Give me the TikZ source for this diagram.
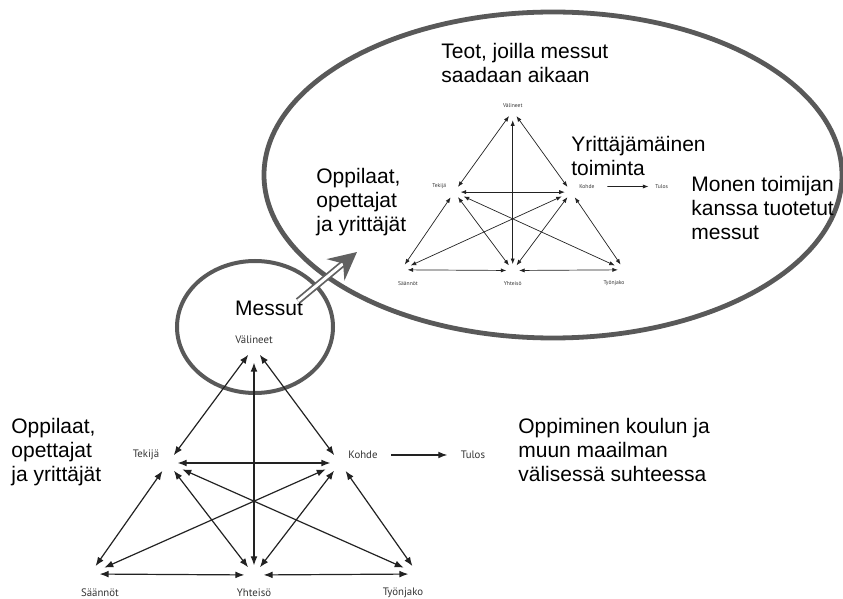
\documentclass[tikz,border=0pt]{standalone}
\usepackage{fontspec}
\setmainfont{Liberation Sans}
\newfontfamily\nimifont{PT Sans}
\usetikzlibrary{arrows.meta}
\tikzset{every picture/.style={>=Latex}}
\tikzset{teksti/.style={font=\fontsize{10.5}{12}\selectfont,align=left,inner sep=0pt,anchor=west}}
\tikzset{kehys/.style={draw=black!65,line width=2.4pt}}
\tikzset{isonuoli/.style={draw=black!62,line width=0.9pt,double=white,double distance=1.5pt,-{Stealth[length=14pt,width=14pt,inset=5pt]}}}
\definecolor{viiva}{HTML}{222222}

% toimintajarjestelman kolmio, koordinaatit pikseleina
\newcommand{\kolmio}{%
  \node[kulma] (V) at (254,347) {};
  \node[kulma] (T) at (168,463) {};
  \node[kulma] (K) at (340,463) {};
  \node[kulma] (S) at (90,574) {};
  \node[kulma] (Y) at (254,575) {};
  \node[kulma] (W) at (418,574) {};
  \node[nimi] (valineet) at (254,340) {Välineet};
  \node[nimi] (tekija) at (146,455) {Tekijä};
  \node[nimi] (kohde) at (363,455) {Kohde};
  \node[nimi] (tulos) at (473,455) {Tulos};
  \node[nimi] (saannot) at (100,593) {Säännöt};
  \node[nimi] (yhteiso) at (254,593) {Yhteisö};
  \node[nimi] (tyonjako) at (403,593) {Työnjako};
  \foreach \a/\b in {V/T,V/K,T/K,T/S,T/Y,K/Y,K/W,S/Y,Y/W}
    \draw[<->] (\a) -- (\b);
  \draw[<->,pitka] (T) -- (W);
  \draw[<->,pitka] (K) -- (S);
  \draw[<->,pystyviiva] (Y) -- (V);
  \draw[->,tulosnuoli] (kohde) -- (tulos);
}

\begin{document}
\begin{tikzpicture}[x=0.5pt,y=-0.5pt]
  \useasboundingbox (0,0) rectangle (843,599);
  % kuplat
  \draw[kehys] (553,175) ellipse [x radius=144.5pt,y radius=81.5pt];
  \draw[kehys,line width=2pt] (255,327) ellipse [x radius=39pt,y radius=33pt];

  % alempi kolmio
  \begin{scope}[name prefix=ala-,line width=0.6pt,color=viiva,>={Latex[length=4.5pt,width=3.4pt]},
      kulma/.style={circle,minimum size=9pt,inner sep=0pt},
      nimi/.style={font=\nimifont\fontsize{5.4}{6}\selectfont,text=black!80,inner sep=0.5pt},
      pitka/.style={shorten <=3pt,shorten >=3pt},
      pystyviiva/.style={shorten >=3pt},
      tulosnuoli/.style={shorten <=6pt,shorten >=6pt}]
    \kolmio
  \end{scope}

  % ylempi kolmio kuplan sisalla
  \begin{scope}[name prefix=yla-,shift={(340,-132)},xscale=0.68,yscale=0.70,
      line width=0.35pt,color=viiva,>={Latex[length=2.8pt,width=2.1pt]},
      kulma/.style={circle,minimum size=6pt,inner sep=0pt},
      nimi/.style={font=\nimifont\fontsize{2.8}{3}\selectfont,text=black!80,inner sep=0.3pt},
      pitka/.style={shorten <=2pt,shorten >=2pt},
      pystyviiva/.style={shorten >=1.5pt},
      tulosnuoli/.style={shorten <=6pt,shorten >=3pt}]
    \kolmio
  \end{scope}

  % tekstit
  \node[teksti] (oppilaat) at (11,452) {Oppilaat,\\opettajat\\ja yrittäjät};
  \node[teksti] (oppiminen) at (518,450) {Oppiminen koulun ja\\muun maailman\\välisessä suhteessa};
  \node[font=\fontsize{10.5}{12}\selectfont,inner sep=0pt] (messut) at (269,308) {Messut};
  \node[teksti] (teot) at (441,63) {Teot, joilla messut\\saadaan aikaan};
  \node[teksti] (oppilaatyla) at (316,202) {Oppilaat,\\opettajat\\ja yrittäjät};
  \node[teksti] (yrittajamainen) at (571,156) {Yrittäjämäinen\\toiminta};
  \node[teksti] (monen) at (691,208) {Monen toimijan\\kanssa tuotetut\\messut};

  % iso nuoli
  \coordinate (nuolialku) at (298,301);
  \coordinate (nuolikarki) at (357,252);
  \draw[isonuoli] (nuolialku) -- (nuolikarki);
\end{tikzpicture}
\end{document}
